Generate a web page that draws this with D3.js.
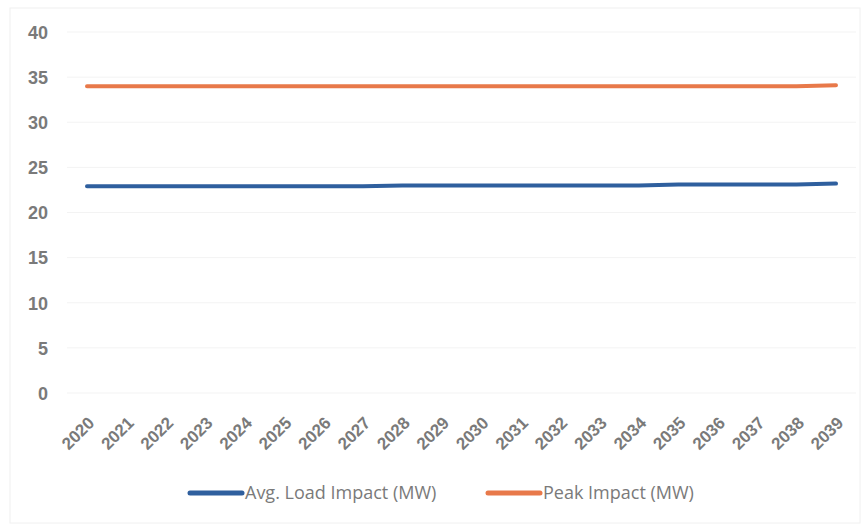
<!DOCTYPE html>
<html><head><meta charset="utf-8">
<script src="https://cdn.jsdelivr.net/npm/d3@7"></script>
<style>body{margin:0;background:#fff;}svg{display:block;font-family:"Open Sans",sans-serif;}</style>
</head><body><svg id="c" width="868" height="529"></svg>
<script>
const years = ["2020","2021","2022","2023","2024","2025","2026","2027","2028","2029","2030","2031","2032","2033","2034","2035","2036","2037","2038","2039"];
const avgLoad = [22.9,22.9,22.9,22.9,22.9,22.9,22.9,22.9,23.0,23.0,23.0,23.0,23.0,23.0,23.0,23.1,23.1,23.1,23.1,23.2];
const peak = [34.0,34.0,34.0,34.0,34.0,34.0,34.0,34.0,34.0,34.0,34.0,34.0,34.0,34.0,34.0,34.0,34.0,34.0,34.0,34.1];
const yTicks = [0,5,10,15,20,25,30,35,40];
const seriesNames = ["Avg. Load Impact (MW)","Peak Impact (MW)"];
const colors = ["#2f5f9e","#e8794a"];

const svg = d3.select("#c");
svg.append("rect").attr("x",10).attr("y",8).attr("width",850).attr("height",515).attr("fill","none").attr("stroke","#f0f0f0");
const x = d3.scalePoint().domain(years).range([87,836]);
const y = d3.scaleLinear().domain([0,40]).range([393,32]);

const g = svg.append("g");
g.selectAll("line.grid").data(yTicks).join("line").attr("class","grid")
  .attr("x1",67).attr("x2",856).attr("y1",d=>y(d)).attr("y2",d=>y(d))
  .attr("stroke","#f3f3f3").attr("stroke-width",1);

const yAxis = svg.append("g").attr("transform","translate(48,0)")
  .call(d3.axisLeft(y).tickValues(yTicks).tickSize(0).tickPadding(0));
yAxis.select(".domain").remove();
yAxis.selectAll("text").attr("font-size",18).attr("font-weight",600).attr("fill","#7a7a7a").attr("text-anchor","end").attr("dy","0.35em");

const xAxis = svg.append("g").attr("transform","translate(0,400)")
  .call(d3.axisBottom(x).tickSize(0).tickPadding(0));
xAxis.select(".domain").remove();
xAxis.selectAll("text").attr("font-size",17).attr("font-weight",600).attr("fill","#7a7a7a")
  .attr("text-anchor","end").attr("dy","0").attr("y",0)
  .attr("transform","translate(8,24) rotate(-45)");

const line = d3.line().x((d,i)=>x(years[i])).y(d=>y(d));
[avgLoad,peak].forEach((s,i)=>{
  svg.append("path").attr("d",line(s)).attr("fill","none").attr("stroke",colors[i]).attr("stroke-width",4).attr("stroke-linecap","round");
});

const leg = [{x:190,w:52},{x:488,w:52}];
seriesNames.forEach((n,i)=>{
  svg.append("line").attr("x1",leg[i].x).attr("x2",leg[i].x+leg[i].w).attr("y1",493).attr("y2",493)
    .attr("stroke",colors[i]).attr("stroke-width",5).attr("stroke-linecap","round");
  svg.append("text").attr("x",leg[i].x+leg[i].w+3).attr("y",493).attr("dy","0.35em")
    .attr("font-size",18).attr("fill","#7a7a7a").text(n);
});
</script></body></html>
